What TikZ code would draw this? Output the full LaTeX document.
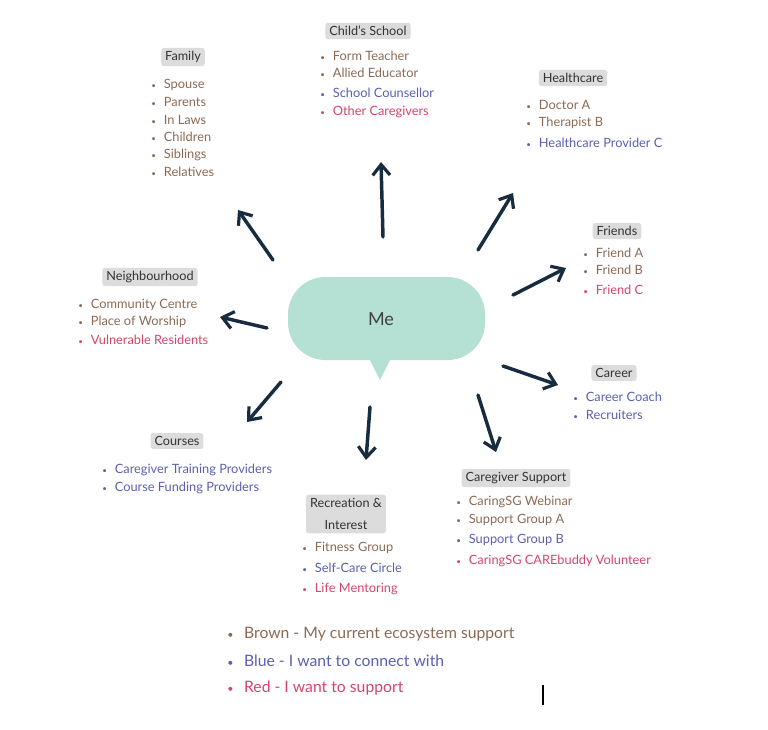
\documentclass[tikz,border=0pt]{standalone}
\usepackage{fontspec}
\setmainfont{Lato}
\usetikzlibrary{arrows.meta}
\definecolor{br}{HTML}{8B6A55}
\definecolor{bl}{HTML}{5A5FB2}
\definecolor{rd}{HTML}{D2466C}
\definecolor{ttl}{HTML}{DCDCDC}
\definecolor{mint}{HTML}{B4E1D4}
\definecolor{navy}{HTML}{182C40}
\tikzset{
  ttlbox/.style={fill=ttl,rounded corners=2pt,inner xsep=3pt,inner ysep=2.5pt,font=\fontsize{9.5}{11}\selectfont,text=black!80},
  itm/.style={anchor=west,inner sep=0pt,font=\fontsize{9.6}{11}\selectfont},
  leg/.style={anchor=west,inner sep=0pt,font=\fontsize{11.8}{14}\selectfont},
  arr/.style={draw=navy,line width=2.6pt,line cap=round,-{Straight Barb[length=8pt,width=13pt,line width=2.4pt]}}
}
\newcommand{\itmlist}[4]{% x, y, color, text
  \node[itm,text=#3] at (#1,#2) {{\fontsize{6}{6}\selectfont\textbullet}\hspace{6pt}#4};}
\begin{document}
\begin{tikzpicture}[x=0.75pt,y=-0.75pt]
\useasboundingbox (0,0) rectangle (768,729);
% bubble
\fill[mint,rounded corners=28pt] (288,277) rectangle (485,360);
\fill[mint] (368,356) -- (380,380) -- (392,356) -- cycle;
\node (me) at (381,319) {\fontsize{13.5}{15}\selectfont\color{black!75}Me};
% arrow coordinates
\coordinate (a1) at (273,260); \coordinate (b1) at (238,210);
\coordinate (a2) at (383,237); \coordinate (b2) at (381,162);
\coordinate (a3) at (478,250); \coordinate (b3) at (513,193);
\coordinate (a4) at (513,295); \coordinate (b4) at (566,268);
\coordinate (a5) at (267,328); \coordinate (b5) at (220,317);
\coordinate (a6) at (503,366); \coordinate (b6) at (558,385);
\coordinate (a7) at (281,382); \coordinate (b7) at (247,422);
\coordinate (a8) at (370,407); \coordinate (b8) at (366,460);
\coordinate (a9) at (478,395); \coordinate (b9) at (496,452);
\foreach \i in {1,...,9} \draw[arr] (a\i) -- (b\i);
% Family
\node[ttlbox] (t1) at (183,57) {Family};
\itmlist{151}{85}{br}{Spouse}
\itmlist{151}{102}{br}{Parents}
\itmlist{151}{120}{br}{In Laws}
\itmlist{151}{137}{br}{Children}
\itmlist{151}{155}{br}{Siblings}
\itmlist{151}{172}{br}{Relatives}
% School
\node[ttlbox] (t2) at (368,31) {Child’s School};
\itmlist{320}{56}{br}{Form Teacher}
\itmlist{320}{73}{br}{Allied Educator}
\itmlist{320}{93}{bl}{School Counsellor}
\itmlist{320}{112}{rd}{Other Caregivers}
% Healthcare
\node[ttlbox] (t3) at (573,78) {Healthcare};
\itmlist{526}{105}{br}{Doctor A}
\itmlist{526}{123}{br}{Therapist B}
\itmlist{526}{143}{bl}{Healthcare Provider C}
% Friends
\node[ttlbox] (t4) at (617,231) {Friends};
\itmlist{583}{253}{br}{Friend A}
\itmlist{583}{270}{br}{Friend B}
\itmlist{583}{290}{rd}{Friend C}
% Neighbourhood
\node[ttlbox] (t5) at (150,277) {Neighbourhood};
\itmlist{78}{305}{br}{Community Centre}
\itmlist{78}{322}{br}{Place of Worship}
\itmlist{78}{340}{rd}{Vulnerable Residents}
% Career
\node[ttlbox] (t6) at (614,373) {Career};
\itmlist{573}{397}{bl}{Career Coach}
\itmlist{573}{415}{bl}{Recruiters}
% Courses
\node[ttlbox] (t7) at (177,441) {Courses};
\itmlist{102}{470}{bl}{Caregiver Training Providers}
\itmlist{102}{488}{bl}{Course Funding Providers}
% Recreation
\node[ttlbox,align=center,font=\fontsize{9.5}{17}\selectfont] (t8) at (346,514) {Recreation \&\\Interest};
\itmlist{302}{548}{br}{Fitness Group}
\itmlist{302}{568}{bl}{Self-Care Circle}
\itmlist{302}{589}{rd}{Life Mentoring}
% Caregiver Support
\node[ttlbox] (t9) at (516,478) {Caregiver Support};
\itmlist{456}{502}{br}{CaringSG Webinar}
\itmlist{456}{520}{br}{Support Group A}
\itmlist{456}{540}{bl}{Support Group B}
\itmlist{456}{561}{rd}{CaringSG CAREbuddy Volunteer}
% Legend
\node[leg,text=br] (l1) at (227,634) {{\fontsize{8}{8}\selectfont\textbullet}\hspace{8pt}Brown - My current ecosystem support};
\node[leg,text=bl] (l2) at (227,661) {{\fontsize{8}{8}\selectfont\textbullet}\hspace{8pt}Blue - I want to connect with};
\node[leg,text=rd] (l3) at (227,688) {{\fontsize{8}{8}\selectfont\textbullet}\hspace{8pt}Red - I want to support};
\draw[black,line width=0.8pt] (543,685) -- (543,705);
\end{tikzpicture}
\end{document}
